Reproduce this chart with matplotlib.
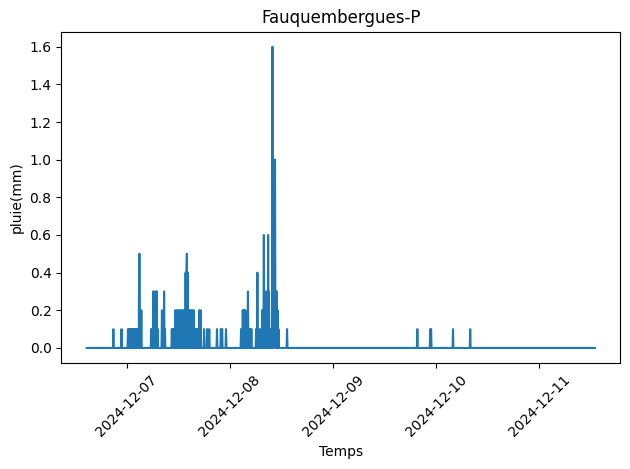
import matplotlib
matplotlib.use("Agg")
import matplotlib.pyplot as plt
import matplotlib.dates as mdates
import pandas as pd

# Series period (6-minute readings)
start_time = "2024-12-06 14:42"
end_time = "2024-12-11 12:54"
step = "6min"

# Non-zero rain readings (all other readings are 0.0 mm)
rain_times = [
    "2024-12-06 20:54", "2024-12-06 22:48",
    "2024-12-07 00:18", "2024-12-07 00:30", "2024-12-07 00:42", "2024-12-07 00:54",
    "2024-12-07 01:06", "2024-12-07 01:18", "2024-12-07 01:36", "2024-12-07 01:54",
    "2024-12-07 02:12", "2024-12-07 02:30", "2024-12-07 02:42", "2024-12-07 02:54",
    "2024-12-07 03:00", "2024-12-07 03:12", "2024-12-07 03:24",
    "2024-12-07 05:42", "2024-12-07 06:00", "2024-12-07 06:12", "2024-12-07 06:24",
    "2024-12-07 06:36", "2024-12-07 06:48", "2024-12-07 07:00", "2024-12-07 07:12",
    "2024-12-07 08:12", "2024-12-07 08:24", "2024-12-07 08:42", "2024-12-07 08:54",
    "2024-12-07 10:30", "2024-12-07 10:48", "2024-12-07 11:06", "2024-12-07 11:18",
    "2024-12-07 11:36", "2024-12-07 11:54", "2024-12-07 12:12", "2024-12-07 12:30",
    "2024-12-07 12:48", "2024-12-07 13:06", "2024-12-07 13:24", "2024-12-07 13:42",
    "2024-12-07 13:54", "2024-12-07 14:00", "2024-12-07 14:12", "2024-12-07 14:24",
    "2024-12-07 14:42", "2024-12-07 15:00", "2024-12-07 15:18", "2024-12-07 15:36",
    "2024-12-07 15:54", "2024-12-07 16:12", "2024-12-07 16:30", "2024-12-07 16:54",
    "2024-12-07 17:12", "2024-12-07 18:00", "2024-12-07 18:42", "2024-12-07 19:12",
    "2024-12-07 21:00", "2024-12-07 21:54", "2024-12-07 22:12", "2024-12-07 23:06",
    "2024-12-08 02:36", "2024-12-08 03:00", "2024-12-08 03:12", "2024-12-08 03:24",
    "2024-12-08 03:36", "2024-12-08 03:48", "2024-12-08 04:12", "2024-12-08 04:24",
    "2024-12-08 04:42", "2024-12-08 05:00", "2024-12-08 06:06", "2024-12-08 06:24",
    "2024-12-08 06:36", "2024-12-08 07:00", "2024-12-08 07:30", "2024-12-08 07:54",
    "2024-12-08 08:06", "2024-12-08 08:24", "2024-12-08 08:42", "2024-12-08 08:54",
    "2024-12-08 09:06", "2024-12-08 09:18", "2024-12-08 09:36", "2024-12-08 09:54",
    "2024-12-08 10:12", "2024-12-08 10:18", "2024-12-08 10:24", "2024-12-08 10:30",
    "2024-12-08 10:42", "2024-12-08 10:54", "2024-12-08 11:06", "2024-12-08 11:18",
    "2024-12-08 13:18",
    "2024-12-09 19:36", "2024-12-09 22:36", "2024-12-09 22:48",
    "2024-12-10 03:54", "2024-12-10 07:54",
]
rain_values = [
    0.1, 0.1,
    0.1, 0.1, 0.1, 0.1,
    0.1, 0.1, 0.1, 0.1,
    0.1, 0.1, 0.1, 0.5,
    0.5, 0.1, 0.2,
    0.1, 0.1, 0.3, 0.3,
    0.1, 0.3, 0.3, 0.1,
    0.2, 0.1, 0.3, 0.1,
    0.1, 0.1, 0.1, 0.2,
    0.2, 0.2, 0.2, 0.2,
    0.2, 0.2, 0.2, 0.4,
    0.4, 0.5, 0.4, 0.2,
    0.2, 0.2, 0.2, 0.2,
    0.1, 0.1, 0.1, 0.2,
    0.2, 0.1, 0.1, 0.1,
    0.1, 0.1, 0.1, 0.1,
    0.1, 0.2, 0.2, 0.2,
    0.2, 0.1, 0.3, 0.1,
    0.1, 0.1, 0.1, 0.4,
    0.1, 0.1, 0.2, 0.6,
    0.2, 0.3, 0.2, 0.6,
    0.3, 0.1, 0.1, 1.6,
    1.0, 1.0, 0.5, 1.0,
    0.3, 0.3, 0.2, 0.1,
    0.1,
    0.1, 0.1, 0.1,
    0.1, 0.1,
]

title = "Fauquembergues-P"
xlabel = "Temps"
ylabel = "pluie(mm)"

index = pd.date_range(start_time, end_time, freq=step)
series = pd.Series(rain_values, index=pd.to_datetime(rain_times))
series = series.groupby(level=0).sum().reindex(index, fill_value=0.0)

fig, ax = plt.subplots(figsize=(6.3, 4.69), dpi=100)
ax.plot(series.index, series.values, color="#1f77b4", linewidth=1.5)
ax.set_title(title)
ax.set_xlabel(xlabel)
ax.set_ylabel(ylabel)
ax.xaxis.set_major_locator(mdates.DayLocator())
ax.xaxis.set_major_formatter(mdates.DateFormatter("%Y-%m-%d"))
plt.setp(ax.get_xticklabels(), rotation=45)
fig.subplots_adjust(left=61.3 / 630, right=620.3 / 630,
                    top=1 - 31.7 / 469, bottom=1 - 363 / 469)
fig.savefig("out.png", dpi=100)
